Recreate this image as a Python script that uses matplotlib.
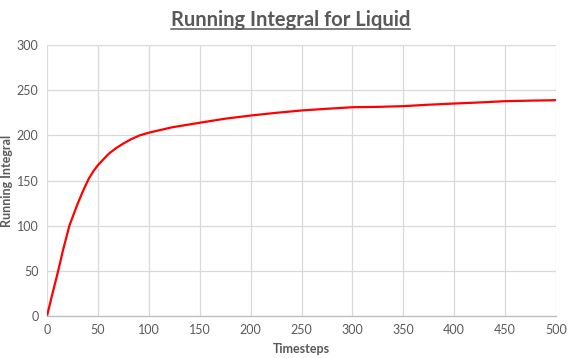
import matplotlib.pyplot as plt
import numpy as np
from matplotlib.lines import Line2D

# values
timesteps = [0, 5, 11, 16, 22, 30, 36, 41, 46, 50, 55, 61, 68, 75, 83, 91, 100, 123, 150, 175,
             200, 225, 250, 275, 300, 325, 350, 375, 400, 425, 450, 475, 500]
running_integral = [0, 23, 50, 74, 100, 124, 140, 152, 161, 167, 173, 180, 186, 191, 196, 200, 203,
                    209, 214, 218.5, 222, 225, 227.6, 229.5, 231.2, 231.6, 232.4, 234, 235.3,
                    236.5, 237.9, 238.5, 239]
x_ticks = list(range(0, 501, 50))
y_ticks = list(range(0, 301, 50))

plt.rcParams['font.family'] = ['Lato', 'DejaVu Sans']
grey = '#595959'

fig = plt.figure(figsize=(5.75, 3.58), dpi=100)
ax = fig.add_axes([0.0817, 0.1173, 0.8853, 0.7567])

ax.plot(timesteps, running_integral, color='#FF0000', linewidth=1.6)

ax.set_xlim(0, 500)
ax.set_ylim(0, 300)
ax.set_xticks(x_ticks)
ax.set_yticks(y_ticks)
ax.grid(True, color='#D9D9D9', linewidth=0.9)
ax.set_axisbelow(True)
for s in ['left', 'right', 'top']:
    ax.spines[s].set_visible(False)
ax.spines['bottom'].set_color('#BFBFBF')
ax.spines['bottom'].set_linewidth(1)
ax.tick_params(length=0, labelsize=9, colors=grey, pad=6)

ax.set_xlabel('Timesteps', fontsize=9, fontweight='bold', color=grey)
ax.set_ylabel('Running Integral', fontsize=9, fontweight='bold', color=grey)
ax.xaxis.set_label_coords(0.5, -0.1)
ax.yaxis.set_label_coords(-0.066, 0.5)

title = fig.text(0.505, 0.972, 'Running Integral for Liquid', ha='center', va='top',
                 fontsize=14.5, fontweight='bold', color=grey)

# underline the title
fig.canvas.draw()
bb = title.get_window_extent().transformed(fig.transFigure.inverted())
fig.add_artist(Line2D([bb.x0, bb.x1], [bb.y0 + 0.004, bb.y0 + 0.004],
                      transform=fig.transFigure, color=grey, linewidth=1.1))

fig.savefig('out.png', dpi=100)
